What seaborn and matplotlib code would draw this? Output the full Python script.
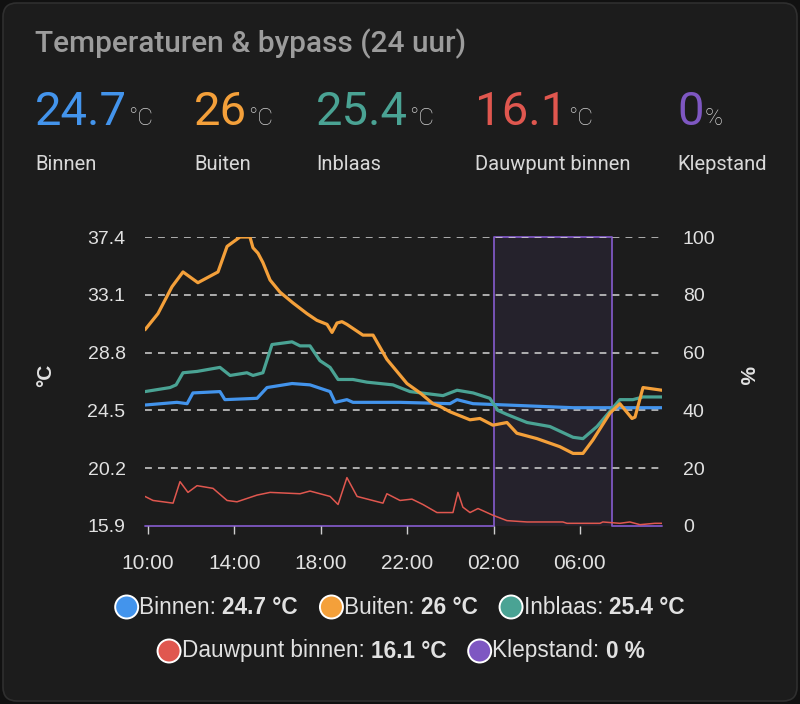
import matplotlib.pyplot as plt
import matplotlib.patches as mpatches
from matplotlib.transforms import IdentityTransform
import pandas as pd
import seaborn as sns

# uren sinds 00:00 van dag 1 (waarden boven 24 = volgende dag)
binnen_h = [9.86, 11.34, 11.81, 12.08, 13.33, 13.56, 15.05, 15.51, 16.67, 17.50, 18.43, 18.66,
            19.21, 19.49, 21.67, 23.98, 24.31, 25.05, 26.62, 29.68, 33.8]
binnen_t = [24.9, 25.1, 25.0, 25.8, 25.9, 25.3, 25.4, 26.2, 26.5, 26.4, 25.9, 25.1,
            25.3, 25.1, 25.1, 25.0, 25.3, 25.0, 24.9, 24.7, 24.7]

buiten_h = [9.86, 10.46, 11.11, 11.62, 12.31, 13.24, 13.66, 14.26, 14.72, 14.86, 15.09, 15.32,
            15.65, 16.11, 16.71, 17.36, 17.82, 18.29, 18.52, 18.75, 18.98, 19.21, 19.95, 20.42,
            21.06, 21.99, 22.6, 23.19, 23.52, 23.98, 24.91, 25.37, 25.97, 26.62, 27.08, 28.01,
            29.07, 29.68, 30.14, 30.60, 31.39, 31.85, 32.41, 32.55, 32.92, 33.8]
buiten_t = [30.5, 31.7, 33.7, 34.8, 34.0, 34.8, 36.7, 37.4, 37.4, 36.6, 36.2, 35.5,
            34.2, 33.3, 32.5, 31.7, 31.2, 30.9, 30.3, 31.0, 31.1, 30.9, 30.1, 30.1,
            28.3, 26.5, 25.8, 25.0, 24.8, 24.4, 23.8, 23.9, 23.4, 23.6, 22.8, 22.4,
            21.8, 21.3, 21.3, 22.3, 24.3, 25.0, 23.9, 24.0, 26.2, 26.0]

inblaas_h = [9.86, 11.02, 11.3, 11.62, 12.27, 13.33, 13.80, 14.58, 14.86, 15.32, 15.74, 16.67,
             17.04, 17.50, 17.96, 18.43, 18.80, 19.49, 20.14, 21.34, 22.13, 23.66, 23.98, 24.31,
             25.05, 25.83, 26.20, 26.62, 27.55, 28.61, 29.68, 30.14, 30.79, 31.85, 32.45, 32.92, 33.8]
inblaas_t = [25.9, 26.2, 26.4, 27.3, 27.4, 27.7, 27.1, 27.3, 27.1, 27.3, 29.4, 29.6,
             29.3, 29.3, 28.2, 27.7, 26.8, 26.8, 26.6, 26.4, 25.9, 25.6, 25.8, 26.0,
             25.8, 25.4, 24.5, 24.2, 23.6, 23.3, 22.5, 22.4, 23.3, 25.3, 25.3, 25.5, 25.5]

dauw_h = [9.86, 10.23, 11.16, 11.48, 11.85, 12.27, 13.01, 13.66, 14.12, 15.05, 15.65, 17.04,
          17.50, 18.43, 18.80, 19.21, 19.68, 20.88, 21.06, 21.67, 22.22, 22.73, 23.38, 24.12,
          24.35, 24.58, 24.91, 25.28, 25.97, 26.62, 27.55, 29.21, 29.40, 30.93, 31.06, 31.85,
          32.31, 32.78, 33.47, 33.8]
dauw_t = [18.1, 17.8, 17.6, 19.2, 18.4, 18.9, 18.7, 17.8, 17.7, 18.2, 18.4, 18.3,
          18.5, 18.1, 17.5, 19.5, 18.1, 17.6, 18.3, 17.8, 17.9, 17.5, 16.9, 16.9,
          18.4, 17.3, 16.9, 17.2, 16.7, 16.3, 16.2, 16.2, 16.1, 16.1, 16.2, 16.1,
          16.2, 16.0, 16.1, 16.1]

klep_h = [9.86, 26.0, 31.48, 33.8]
klep_pct = [0, 100, 0, 0]

reeksen = ["Binnen", "Buiten", "Inblaas", "Dauwpunt binnen", "Klepstand"]
kleuren = ["#4394ec", "#f4a03a", "#4aa394", "#e0574f", "#7e57c2"]
huidig = ["24.7", "26", "25.4", "16.1", "0"]
eenheid = ["°C", "°C", "°C", "°C", "%"]
kop_x = [35, 194, 316, 475, 677]

y_ticks = [15.9, 20.2, 24.5, 28.8, 33.1, 37.4]
pct_ticks = [0, 20, 40, 60, 80, 100]
x_ticks = [10, 14, 18, 22, 26, 30]
x_labels = ["10:00", "14:00", "18:00", "22:00", "02:00", "06:00"]

W, H = 800, 704
BG = "#1c1c1c"
TXT = "#e1e1e1"

sns.set_theme(style="dark", rc={
    "axes.facecolor": BG,
    "figure.facecolor": "#111111",
    "text.color": TXT,
    "xtick.color": TXT,
    "ytick.color": TXT,
})
plt.rcParams["font.family"] = ["Liberation Sans", "DejaVu Sans"]

fig = plt.figure(figsize=(W / 100, H / 100), dpi=100)

card = mpatches.FancyBboxPatch((3, 3), W - 6, H - 6, boxstyle="round,pad=0,rounding_size=14",
                               facecolor=BG, edgecolor="#2f2f2f", linewidth=1.2,
                               transform=IdentityTransform(), zorder=0)
fig.add_artist(card)

ax = fig.add_axes([145 / W, 1 - 526 / H, (662 - 145) / W, (526 - 237) / H])
ax2 = ax.twinx()
ax.set_zorder(2)
ax2.set_zorder(1)
ax.patch.set_visible(False)
ax2.patch.set_facecolor(BG)

frames = []
for naam, hs, ts in [("Binnen", binnen_h, binnen_t), ("Buiten", buiten_h, buiten_t),
                     ("Inblaas", inblaas_h, inblaas_t), ("Dauwpunt binnen", dauw_h, dauw_t)]:
    frames.append(pd.DataFrame({"uur": hs, "temp": ts, "reeks": naam}))
df = pd.concat(frames, ignore_index=True)

palette = dict(zip(reeksen, kleuren))
sns.lineplot(data=df, x="uur", y="temp", hue="reeks", size="reeks",
             hue_order=["Dauwpunt binnen", "Binnen", "Inblaas", "Buiten"],
             palette=palette,
             sizes={"Binnen": 2.3, "Buiten": 2.3, "Inblaas": 2.3, "Dauwpunt binnen": 1.1},
             legend=False, ax=ax)

sns.lineplot(x=klep_h, y=klep_pct, drawstyle="steps-post", color=kleuren[4],
             linewidth=1.3, ax=ax2, clip_on=False)
ax2.fill_between(klep_h, klep_pct, step="post", color=kleuren[4], alpha=0.1, linewidth=0)

ax.set_xlim(klep_h[0], klep_h[-1])
ax.set_ylim(y_ticks[0], y_ticks[-1])
ax2.set_ylim(0, 100)

ax.set_yticks(y_ticks)
ax.set_yticklabels([f"{v:.1f}" for v in y_ticks])
ax2.set_yticks(pct_ticks)
ax2.set_yticklabels([str(v) for v in pct_ticks])
ax.set_xticks(x_ticks)
ax.set_xticklabels(x_labels)

ax.tick_params(axis="y", length=0, pad=14, labelsize=14, labelcolor=TXT)
ax2.tick_params(axis="y", length=0, pad=15, labelsize=14, labelcolor=TXT)
ax.tick_params(axis="x", length=6, width=1, color="#cfcfcf", pad=14, labelsize=15,
               labelcolor=TXT, bottom=True)

ax.grid(False)
ax2.grid(False)
for v in y_ticks[1:]:
    ax.axhline(v, color="#d5d5d5", linewidth=1.1, linestyle=(0, (4.5, 4)), zorder=0)

for a in (ax, ax2):
    for s in a.spines.values():
        s.set_visible(False)

ax.set_xlabel("")
ax.set_ylabel("°C", fontsize=15, fontweight="bold", color=TXT, rotation=90)
ax.yaxis.set_label_coords((55 - 145) / 517, 0.52)
ax2.set_ylabel("%", fontsize=15, fontweight="bold", color=TXT, rotation=270, va="center")
ax2.yaxis.set_label_coords((745 - 145) / 517, 0.52)

renderer = fig.canvas.get_renderer()


def px_text(x, y, s, **kw):
    return fig.text(x, H - y, s, transform=IdentityTransform(), **kw)


def breedte(t):
    return t.get_window_extent(renderer).width


# kop
ROBOTO = ["Roboto", "DejaVu Sans"]
px_text(35, 52, "Temperaturen & bypass (24 uur)", fontsize=21.5, color="#9c9c9c",
        family=ROBOTO, fontweight="medium", va="baseline")
for x, val, unit, naam, kleur in zip(kop_x, huidig, eenheid, reeksen, kleuren):
    t = px_text(x, 125, val, fontsize=34, color=kleur, family=ROBOTO, va="baseline")
    px_text(x + breedte(t) + 1, 125, unit, fontsize=17.5, color="#d0d0d0",
            family=ROBOTO, fontweight="light", va="baseline")
    px_text(x, 170, naam, fontsize=14.5, color="#d8d8d8", family=ROBOTO, va="baseline")


# legenda
def legenda_rij(items, y, midden):
    r = 11.5
    gap = 22
    delen = []
    totaal = 0
    for naam, waarde, kleur in items:
        t1 = px_text(0, y, f"{naam}: ", fontsize=16.3, color=TXT, va="center")
        t2 = px_text(0, y, waarde, fontsize=16.3, color=TXT, fontweight="bold", va="center")
        w1, w2 = breedte(t1), breedte(t2)
        delen.append((t1, t2, w1, w2, kleur))
        totaal += 2 * r + 1 + w1 + w2
    totaal += gap * (len(items) - 1)
    x = midden - totaal / 2
    for t1, t2, w1, w2, kleur in delen:
        c = mpatches.Circle((x + r, H - y), r, facecolor=kleur, edgecolor="white",
                            linewidth=1.4, transform=IdentityTransform())
        fig.add_artist(c)
        x += 2 * r + 1
        t1.set_position((x, H - y))
        x += w1
        t2.set_position((x, H - y))
        x += w2 + gap


leg = [(n, f"{v} {u}", k) for n, v, u, k in zip(reeksen, huidig, eenheid, kleuren)]
legenda_rij(leg[:3], 607, 400)
legenda_rij(leg[3:], 651, 401)

fig.savefig("out.png", dpi=100, facecolor=fig.get_facecolor())
